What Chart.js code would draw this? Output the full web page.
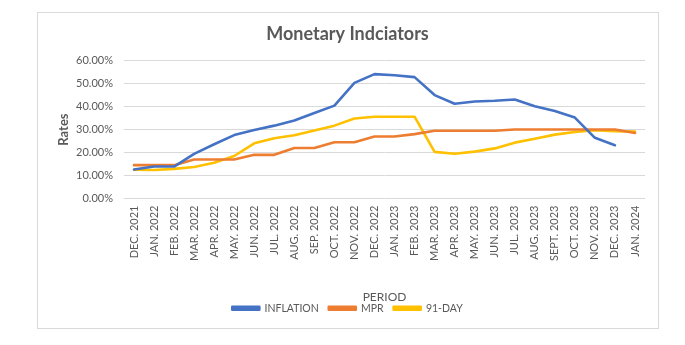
<!DOCTYPE html>
<html>
<head>
<meta charset="utf-8">
<script src="https://cdn.jsdelivr.net/npm/chart.js@4"></script>
<style>
html,body{margin:0;padding:0;background:#fff;}
#wrap{position:absolute;left:0;top:0;width:685px;height:345px;}
</style>
</head>
<body>
<div id="wrap"><canvas id="c" width="685" height="345"></canvas></div>
<script>
const categories = ["DEC. 2021","JAN. 2022","FEB. 2022","MAR. 2022","APR. 2022","MAY. 2022","JUN. 2022","JUL. 2022","AUG. 2022","SEP. 2022","OCT. 2022","NOV. 2022","DEC. 2022","JAN. 2023","FEB. 2023","MAR. 2023","APR. 2023","MAY. 2023","JUN. 2023","JUL. 2023","AUG. 2023","SEPT. 2023","OCT. 2023","NOV. 2023","DEC. 2023","JAN. 2024"];
const inflation = [12.6,13.9,13.9,19.4,23.6,27.6,29.8,31.7,33.9,37.2,40.4,50.3,54.1,53.6,52.8,45.0,41.2,42.2,42.5,43.1,40.1,38.1,35.2,26.4,23.2,null];
const mpr = [14.5,14.5,14.5,17.0,17.0,17.0,19.0,19.0,22.0,22.0,24.5,24.5,27.0,27.0,28.0,29.5,29.5,29.5,29.5,30.0,30.0,30.0,30.0,30.0,30.0,28.5];
const day91 = [12.5,12.4,12.9,13.7,15.6,18.5,24.0,26.2,27.5,29.6,31.7,34.8,35.6,35.6,35.6,20.3,19.5,20.4,21.8,24.3,26.0,27.8,28.9,29.7,29.3,29.1];
const yTicks = [0,10,20,30,40,50,60];

const FONT = "Lato, 'Open Sans', sans-serif";
const TXT = "#595959";

const frame = {
  id: 'frame',
  beforeDraw(chart) {
    const ctx = chart.ctx;
    ctx.save();
    ctx.fillStyle = '#fff';
    ctx.fillRect(0, 0, chart.width, chart.height);
    ctx.strokeStyle = '#d9d9d9';
    ctx.lineWidth = 1;
    ctx.strokeRect(37.5, 12.5, 621, 316);
    ctx.restore();
  }
};

new Chart(document.getElementById('c'), {
  type: 'line',
  data: {
    labels: categories,
    datasets: [
      {label: 'INFLATION', data: inflation, borderColor: '#4472C4', backgroundColor: '#4472C4'},
      {label: 'MPR', data: mpr, borderColor: '#ED7D31', backgroundColor: '#ED7D31'},
      {label: '91-DAY', data: day91, borderColor: '#FFC000', backgroundColor: '#FFC000'}
    ]
  },
  options: {
    responsive: false,
    animation: false,
    devicePixelRatio: 1,
    elements: {
      line: {borderWidth: 2.6, tension: 0, borderCapStyle: 'round', borderJoinStyle: 'round'},
      point: {radius: 0, hoverRadius: 0}
    },
    layout: {padding: {left: 50, right: 40, top: 14, bottom: 21.5}},
    plugins: {
      title: {
        display: true,
        text: 'Monetary Indciators',
        color: TXT,
        font: {family: FONT, size: 18, weight: 'bold'},
        padding: {top: 9, bottom: 16}
      },
      legend: {
        display: true,
        position: 'bottom',
        labels: {
          color: TXT,
          font: {family: FONT, size: 10.5},
          boxWidth: 27,
          boxHeight: 3,
          padding: 10
        }
      },
      tooltip: {enabled: false}
    },
    scales: {
      x: {
        offset: true,
        grid: {display: false, drawTicks: false},
        border: {display: false},
        ticks: {
          color: TXT,
          font: {family: FONT, size: 11},
          minRotation: 90,
          maxRotation: 90,
          autoSkip: false,
          padding: 7
        },
        title: {
          display: true,
          text: 'PERIOD',
          color: TXT,
          font: {family: FONT, size: 12},
          padding: {top: 4, bottom: -11.7}
        },
        afterFit(scale) { scale.height = 94.5; }
      },
      y: {
        min: 0,
        max: 60,
        afterBuildTicks(scale) { scale.ticks = yTicks.map(v => ({value: v})); },
        grid: {color: '#d9d9d9', drawTicks: false, lineWidth: 1},
        border: {display: false},
        ticks: {
          color: TXT,
          font: {family: FONT, size: 11},
          padding: 11,
          callback: v => v.toFixed(2) + '%'
        },
        title: {
          display: true,
          text: 'Rates',
          color: TXT,
          font: {family: FONT, size: 13, weight: 'bold'},
          padding: {top: 6, bottom: 0}
        },
        afterFit(scale) { scale.width = 74; }
      }
    }
  },
  plugins: [frame]
});
</script>
</body>
</html>
